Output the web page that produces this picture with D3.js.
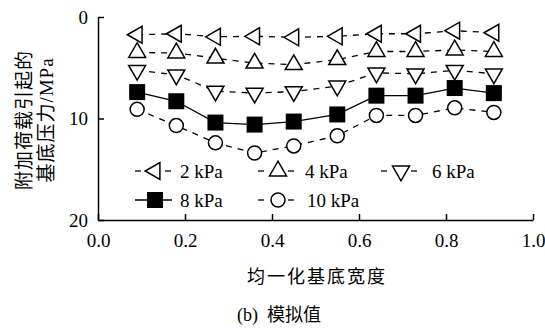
<!DOCTYPE html>
<html lang="zh-CN">
<head>
  <meta charset="utf-8">
  <title>模拟值</title>
  <script src="https://d3js.org/d3.v7.min.js"></script>
  <style>
    body { margin: 0; background: #fff; }
    svg text { font-family: "Liberation Serif", "Noto Sans CJK SC", serif; fill: #000; }
    .axis path, .axis line { stroke: #000; stroke-width: 1.5; }
    .axis text { font-size: 19px; }
  </style>
</head>
<body>
  <div id="chart"></div>
  <script>
    "use strict"

    // 均一化基底宽度
    var widths = [0.09, 0.18, 0.27, 0.36, 0.45, 0.55, 0.64, 0.73, 0.82, 0.91];
    // 附加荷载引起的基底压力 (MPa)
    var p2 = [1.75, 1.65, 1.95, 1.9, 2.0, 1.9, 1.65, 1.65, 1.35, 1.55];
    var p4 = [3.5, 3.55, 4.05, 4.55, 4.7, 4.2, 3.4, 3.4, 3.25, 3.4];
    var p6 = [5.25, 5.7, 7.3, 7.5, 7.35, 6.8, 5.5, 5.6, 5.25, 5.6];
    var p8 = [7.4, 8.3, 10.4, 10.6, 10.3, 9.6, 7.75, 7.75, 7.0, 7.5];
    var p10 = [9.1, 10.7, 12.4, 13.4, 12.7, 11.7, 9.7, 9.7, 8.95, 9.4];
    var seriesNames = ["2 kPa", "4 kPa", "6 kPa", "8 kPa", "10 kPa"];
    var xTicks = [0, 0.2, 0.4, 0.6, 0.8, 1.0];
    var yTicks = [0, 10, 20];

    var series = [
      { name: seriesNames[0], values: p2, mark: "left", dashed: true },
      { name: seriesNames[1], values: p4, mark: "up", dashed: true },
      { name: seriesNames[2], values: p6, mark: "down", dashed: true },
      { name: seriesNames[3], values: p8, mark: "square", dashed: false },
      { name: seriesNames[4], values: p10, mark: "circle", dashed: true }
    ];

    var width = 545, height = 329;
    var margin = { top: 17, right: 12, bottom: 109, left: 98 };

    var svg = d3.select("#chart").append("svg")
      .attr("width", width)
      .attr("height", height);

    var x = d3.scaleLinear().domain([0, 1]).range([margin.left, width - margin.right]);
    var y = d3.scaleLinear().domain([0, 20]).range([margin.top, height - margin.bottom]);

    // axes
    svg.append("g")
      .attr("class", "axis")
      .attr("transform", "translate(0," + y(20) + ")")
      .call(d3.axisBottom(x).tickValues(xTicks).tickFormat(d3.format(".1f"))
        .tickSizeInner(-6).tickSizeOuter(0).tickPadding(14));

    svg.append("g")
      .attr("class", "axis")
      .attr("transform", "translate(" + x(0) + ",0)")
      .call(d3.axisLeft(y).tickValues(yTicks).tickFormat(d3.format("d"))
        .tickSizeInner(-6).tickSizeOuter(0).tickPadding(10));

    // markers
    function drawMark(g, kind, cx, cy) {
      if (kind === "square") {
        g.append("rect").attr("x", cx - 8).attr("y", cy - 8)
          .attr("width", 16).attr("height", 16).attr("fill", "#000");
      } else if (kind === "circle") {
        g.append("circle").attr("cx", cx).attr("cy", cy).attr("r", 7)
          .attr("fill", "#fff").attr("stroke", "#000").attr("stroke-width", 1.5);
      } else {
        var rot = kind === "up" ? 0 : kind === "down" ? 180 : -90;
        g.append("path")
          .attr("d", d3.symbol().type(d3.symbolTriangle).size(125)())
          .attr("transform", "translate(" + cx + "," + cy + ") rotate(" + rot + ")")
          .attr("fill", "#fff").attr("stroke", "#000").attr("stroke-width", 1.5);
      }
    }

    var line = d3.line()
      .x(function (d, i) { return x(widths[i]); })
      .y(function (d) { return y(d); });

    series.forEach(function (s) {
      var g = svg.append("g");
      g.append("path")
        .attr("d", line(s.values))
        .attr("fill", "none")
        .attr("stroke", "#000")
        .attr("stroke-width", 1.3)
        .attr("stroke-dasharray", s.dashed ? "6,6" : null);
      s.values.forEach(function (v, i) {
        drawMark(g, s.mark, x(widths[i]), y(v));
      });
    });

    // legend
    var legendPos = [[155, 171], [278, 171], [401, 171], [155, 200], [278, 200]];
    var textGap = [25, 27, 31, 25, 29];
    series.forEach(function (s, i) {
      var g = svg.append("g");
      var lx = legendPos[i][0], ly = legendPos[i][1];
      if (s.dashed) {
        g.append("line").attr("x1", lx - 20).attr("x2", lx - 14).attr("y1", ly).attr("y2", ly)
          .attr("stroke", "#000").attr("stroke-width", 1.3);
        g.append("line").attr("x1", lx + 10).attr("x2", lx + 16).attr("y1", ly).attr("y2", ly)
          .attr("stroke", "#000").attr("stroke-width", 1.3);
      } else {
        g.append("line").attr("x1", lx - 20).attr("x2", lx + 17).attr("y1", ly).attr("y2", ly)
          .attr("stroke", "#000").attr("stroke-width", 1.3);
      }
      drawMark(g, s.mark, lx, ly);
      g.append("text")
        .attr("x", lx + textGap[i])
        .attr("y", ly + 6.5)
        .style("font-size", "19px")
        .text(s.name);
    });

    // titles
    svg.append("text")
      .attr("x", 317).attr("y", 283)
      .attr("text-anchor", "middle")
      .style("font-size", "18px")
      .style("letter-spacing", "2px")
      .text("均一化基底宽度");

    var yTitle = svg.append("text")
      .attr("transform", "translate(0,120) rotate(-90)")
      .attr("text-anchor", "middle")
      .style("font-size", "19px")
      .style("letter-spacing", "1px");
    yTitle.append("tspan").attr("x", 0).attr("y", 31).text("附加荷载引起的");
    yTitle.append("tspan").attr("x", 0).attr("y", 53).text("基底压力/MPa");

    svg.append("text")
      .attr("x", 279).attr("y", 321)
      .attr("text-anchor", "middle")
      .style("font-size", "18px")
      .style("white-space", "pre")
      .text("(b)  模拟值");
  </script>
</body>
</html>
